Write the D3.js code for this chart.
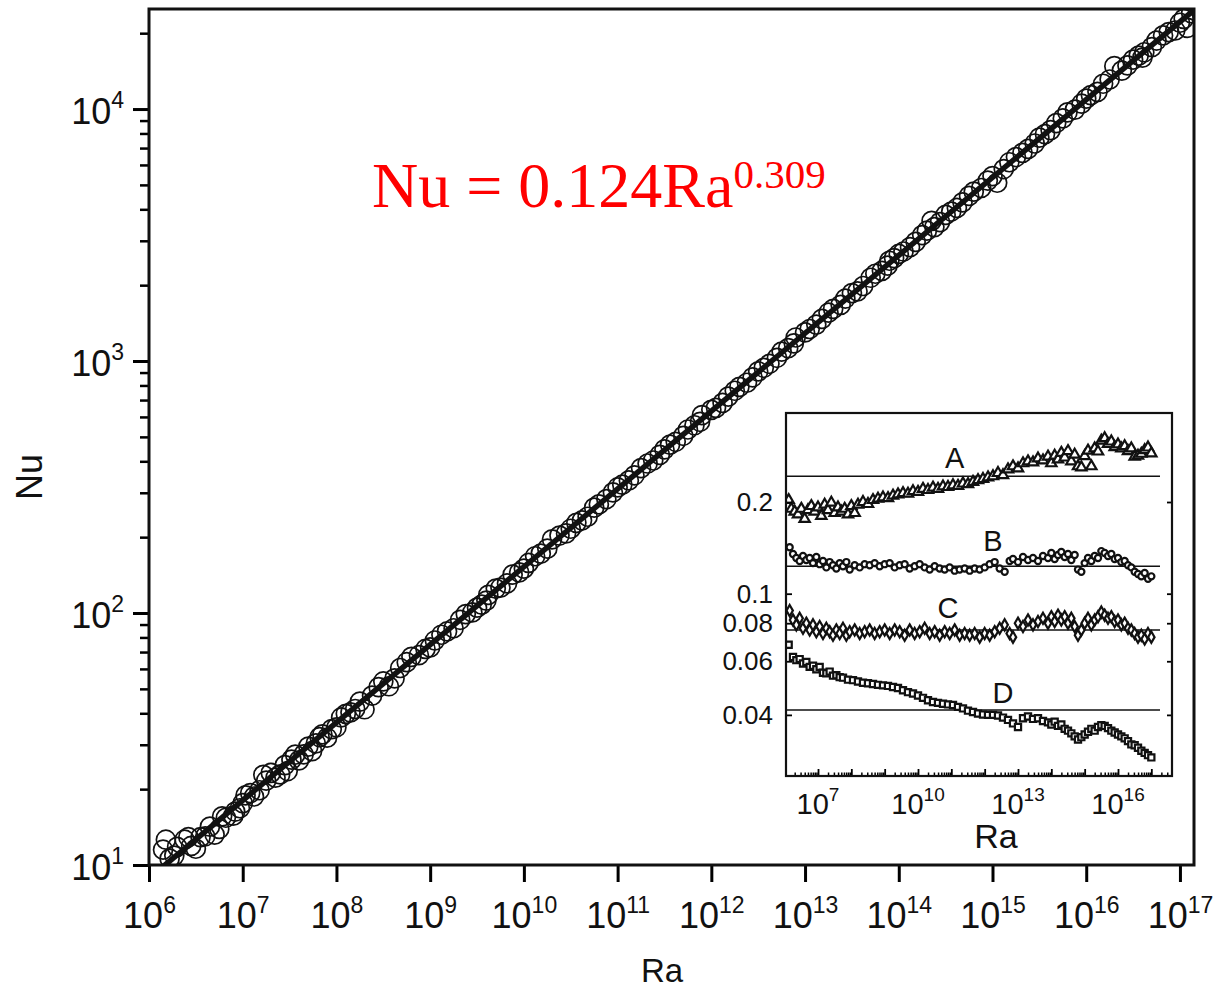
<!DOCTYPE html>
<html>
<head>
<meta charset="utf-8">
<script src="https://cdn.jsdelivr.net/npm/d3@7"></script>
<style>
body { margin: 0; background: #fff; }
svg { display: block; }
text { font-family: "Liberation Sans", Arial, Helvetica, sans-serif; }
</style>
</head>
<body>
<div id="chart"></div>
<script>
// main panel: measured points, Ra exponent (log10 Ra) and Nu
var raExp = [6.15, 6.22, 6.30, 6.38, 6.45, 6.55, 6.60, 6.65, 6.75, 6.82, 6.90, 6.92, 7.00, 7.08, 7.18, 7.22, 7.25,
    7.35, 7.45, 7.52, 7.60, 7.65, 7.70, 7.78, 7.85, 7.90, 7.95, 8.05, 8.15, 8.25, 8.30, 8.38, 8.50, 8.62, 8.75,
    8.80, 8.88, 9.00, 9.12, 9.25, 9.38, 9.50, 9.60, 9.62, 9.75, 9.88, 10.00, 10.12, 10.25, 10.30, 10.38, 10.50,
    10.62, 10.75, 10.80, 10.88, 11.00, 11.12, 11.25, 11.38, 11.50, 11.62, 11.75, 11.88, 11.90, 12.00, 12.12,
    12.25, 12.30, 12.38, 12.50, 12.62, 12.75, 12.88, 12.90, 13.00, 13.12, 13.25, 13.30, 13.38, 13.50, 13.62,
    13.75, 13.88, 13.90, 14.00, 14.12, 14.25, 14.35, 14.38, 14.50, 14.62, 14.75, 14.80, 14.88, 15.00, 15.05,
    15.12, 15.25, 15.38, 15.45, 15.50, 15.62, 15.75, 15.80, 15.88, 16.00, 16.12, 16.25, 16.30, 16.38, 16.50,
    16.60, 16.62, 16.75, 16.88, 16.95, 17.00, 17.08, 17.12,
    6.18, 6.27, 6.42, 6.50, 6.70, 6.78, 6.97, 7.03, 7.12, 7.30, 7.40, 7.48, 7.56, 7.74, 7.82, 8.00, 8.10, 8.20,
    8.45, 8.56, 8.68, 8.95, 9.05, 9.18, 9.32, 9.45, 9.55, 9.70, 9.82, 9.95, 10.05, 10.18, 10.45, 10.56, 10.68,
    10.95, 11.05, 11.18, 11.32, 11.45, 11.56, 11.70, 11.82, 12.05, 12.18, 12.44, 12.56, 12.70, 12.82, 13.05,
    13.18, 13.43, 13.56, 13.70, 13.82, 13.95, 14.05, 14.18, 14.30, 14.44, 14.56, 14.68, 14.95, 15.18, 15.32,
    15.56, 15.68, 15.95, 16.05, 16.18, 16.44, 16.56, 16.70, 16.82, 17.04];
var nu = [11.5, 10.6, 11.8, 12.6, 11.9, 12.9, 13.0, 14.2, 13.9, 15.4, 15.7, 16.3, 17.6, 19.3, 19.8, 22.8, 21.6,
    22.2, 24.9, 26.2, 26.0, 27.5, 29.5, 30.4, 33.0, 32.0, 34.6, 38.5, 40.3, 44.5, 41.5, 47.0, 53.5, 55.0, 63.8,
    67.0, 68.0, 73.0, 82.0, 87.0, 99.0, 105, 112, 118, 126, 142, 150, 168, 180, 196, 203, 216,
    233, 262, 270, 283, 315, 336, 376, 403, 446, 478, 535, 574, 610, 640, 682,
    762, 790, 820, 910, 975, 1090, 1175, 1240, 1300, 1395, 1555, 1610, 1670, 1860, 1985,
    2220, 2390, 2500, 2660, 2830, 3160, 3600, 3400, 3800, 4050, 4520, 4700, 4860, 5420, 5100,
    5780, 6450, 6950, 7300, 7700, 8250, 9180, 9700, 9950, 11000, 11700, 13100, 14800, 14200, 15700,
    16000, 16800, 18700, 20200, 20500, 22000, 21000, 24000,
    12.6, 10.9, 12.9, 11.6, 13.2, 15.6, 16.8, 18.9, 18.7, 23.2, 22.9, 23.6, 27.4, 28.3, 32.2, 35.2, 39.8, 41.6,
    50.8, 51.2, 60.5, 72.0, 77.8, 84.5, 94.0, 100.5, 108, 125, 131, 145, 158, 172, 207, 228, 241,
    301, 323, 352, 392, 424, 466, 505, 556, 652, 722, 862, 940, 1030, 1125, 1340,
    1470, 1770, 1890, 2140, 2280, 2560, 2720, 2970, 3290, 3560, 3920, 4260, 5200, 6150, 6700,
    7950, 8800, 10500, 11350, 12600, 14900, 16300, 17600, 19600, 22800];

// fitted law shown in the plot
var fitC = 0.124, fitExp = 0.309;

var raTicks = [1e6, 1e7, 1e8, 1e9, 1e10, 1e11, 1e12, 1e13, 1e14, 1e15, 1e16, 1e17];
var nuTicks = [1e1, 1e2, 1e3, 1e4];

// inset: prefactors for the four fits
var insetRaA = [6.12, 6.2, 6.3, 6.4, 6.5, 6.6, 6.7, 6.8, 6.9, 7.0, 7.1, 7.2, 7.3, 7.4, 7.5, 7.6, 7.7, 7.8, 7.9,
    8.0, 8.1, 8.2, 8.35, 8.5, 8.65, 8.8, 8.95, 9.1, 9.25, 9.4, 9.55, 9.7, 9.85, 10.0, 10.15, 10.3, 10.45, 10.6,
    10.75, 10.9, 11.05, 11.2, 11.35, 11.5, 11.65, 11.8, 11.95, 12.1, 12.25, 12.4, 12.55, 12.7, 12.85, 13.0,
    13.15, 13.3, 13.45, 13.6, 13.75, 13.9, 14.0, 14.1, 14.2, 14.3, 14.4, 14.5, 14.6, 14.7, 14.8, 14.9, 15.0,
    15.1, 15.2, 15.3, 15.4, 15.5, 15.6, 15.7, 15.8, 15.9, 16.0, 16.1, 16.2, 16.3, 16.4, 16.5, 16.6, 16.7,
    16.8, 16.9, 17.0];
var insetA = [0.203, 0.19, 0.186, 0.182, 0.19, 0.176, 0.188, 0.194, 0.186, 0.192, 0.18, 0.196, 0.188, 0.199,
    0.184, 0.192, 0.186, 0.19, 0.182, 0.194, 0.184, 0.196, 0.2, 0.197, 0.203, 0.205, 0.207, 0.206, 0.21, 0.212,
    0.214, 0.213, 0.217, 0.216, 0.221, 0.219, 0.223, 0.221, 0.225, 0.224, 0.227, 0.226, 0.23, 0.229, 0.233,
    0.236, 0.238, 0.241, 0.243, 0.249, 0.245, 0.256, 0.262, 0.258, 0.268, 0.272, 0.27, 0.278, 0.274, 0.282,
    0.268, 0.284, 0.276, 0.29, 0.28, 0.294, 0.272, 0.286, 0.262, 0.26, 0.283, 0.295, 0.262, 0.3, 0.293, 0.318,
    0.324, 0.31, 0.316, 0.303, 0.309, 0.3, 0.305, 0.294, 0.3, 0.282, 0.284, 0.288, 0.296, 0.302, 0.289];

var insetRa = [6.15, 6.25, 6.35, 6.45, 6.55, 6.65, 6.75, 6.85, 6.95, 7.05, 7.15, 7.25, 7.35, 7.45, 7.55, 7.65,
    7.75, 7.85, 7.95, 8.1, 8.25, 8.4, 8.55, 8.7, 8.85, 9.0, 9.15, 9.3, 9.45, 9.6, 9.75, 9.9, 10.05, 10.2, 10.35,
    10.5, 10.65, 10.8, 10.95, 11.1, 11.25, 11.4, 11.55, 11.7, 11.85, 12.0, 12.15, 12.3, 12.45, 12.6, 12.75,
    12.85, 13.0, 13.15, 13.3, 13.45, 13.6, 13.75, 13.9, 14.0, 14.1, 14.2, 14.3, 14.4, 14.5, 14.6, 14.7, 14.8,
    14.9, 15.0, 15.1, 15.2, 15.3, 15.4, 15.5, 15.6, 15.7, 15.8, 15.9, 16.0, 16.1, 16.2, 16.3, 16.4, 16.5,
    16.6, 16.7, 16.8, 16.9, 17.0];
var insetB = [0.142, 0.135, 0.131, 0.128, 0.133, 0.129, 0.131, 0.126, 0.132, 0.125, 0.128, 0.122, 0.127, 0.124,
    0.121, 0.126, 0.123, 0.127, 0.12, 0.124, 0.122, 0.125, 0.124, 0.126, 0.123, 0.125, 0.126, 0.122, 0.124,
    0.125, 0.121, 0.123, 0.125, 0.122, 0.12, 0.123, 0.121, 0.12, 0.122, 0.119, 0.12, 0.121, 0.119, 0.121,
    0.12, 0.122, 0.125, 0.127, 0.121, 0.118, 0.128, 0.13, 0.127, 0.132, 0.129, 0.131, 0.128, 0.133, 0.131,
    0.136, 0.13, 0.134, 0.137, 0.132, 0.135, 0.129, 0.134, 0.12, 0.118, 0.126, 0.131, 0.128, 0.133, 0.131,
    0.138, 0.136, 0.133, 0.135, 0.13, 0.131, 0.127, 0.128, 0.124, 0.122, 0.118, 0.116, 0.114, 0.117, 0.112,
    0.114];
var insetC = [0.088, 0.082, 0.079, 0.083, 0.077, 0.08, 0.076, 0.079, 0.075, 0.078, 0.074, 0.077, 0.075, 0.073,
    0.076, 0.074, 0.077, 0.073, 0.075, 0.076, 0.074, 0.075, 0.076, 0.074, 0.075, 0.076, 0.074, 0.076, 0.075,
    0.073, 0.076, 0.074, 0.075, 0.077, 0.074, 0.075, 0.073, 0.075, 0.074, 0.076, 0.073, 0.074, 0.073, 0.074,
    0.072, 0.074, 0.073, 0.075, 0.077, 0.079, 0.074, 0.072, 0.08, 0.078, 0.082, 0.079, 0.081, 0.083, 0.08,
    0.084, 0.081, 0.085, 0.082, 0.084, 0.08, 0.083, 0.078, 0.073, 0.076, 0.08, 0.083, 0.079, 0.082, 0.084,
    0.087, 0.085, 0.083, 0.084, 0.081, 0.082, 0.079, 0.08, 0.077, 0.076, 0.074, 0.072, 0.073, 0.071, 0.074,
    0.072];

var insetRaD = [6.12, 6.25, 6.35, 6.45, 6.55, 6.65, 6.75, 6.85, 6.95, 7.05, 7.15, 7.25, 7.35, 7.45, 7.55, 7.65,
    7.75, 7.9, 8.05, 8.2, 8.35, 8.5, 8.65, 8.8, 8.95, 9.1, 9.25, 9.4, 9.55, 9.7, 9.85, 10.0, 10.15, 10.3, 10.45,
    10.6, 10.75, 10.9, 11.05, 11.2, 11.35, 11.5, 11.65, 11.8, 11.95, 12.1, 12.25, 12.4, 12.55, 12.7, 12.85,
    13.0, 13.15, 13.3, 13.45, 13.6, 13.75, 13.9, 14.0, 14.1, 14.2, 14.3, 14.4, 14.5, 14.6, 14.7, 14.8, 14.9,
    15.0, 15.1, 15.2, 15.3, 15.4, 15.5, 15.6, 15.7, 15.8, 15.9, 16.0, 16.1, 16.2, 16.3, 16.4, 16.5, 16.6,
    16.7, 16.8, 16.9, 17.0];
var insetD = [0.068, 0.062, 0.0605, 0.061, 0.059, 0.0597, 0.0575, 0.058, 0.0565, 0.0575, 0.055, 0.0548, 0.0555,
    0.0538, 0.054, 0.0532, 0.053, 0.0522, 0.052, 0.0515, 0.051, 0.0508, 0.0505, 0.0502, 0.05, 0.0498, 0.0494,
    0.049, 0.0482, 0.0475, 0.047, 0.0463, 0.0455, 0.0447, 0.0441, 0.0438, 0.0435, 0.0433, 0.0431, 0.0425,
    0.042, 0.0413, 0.0409, 0.0404, 0.0401, 0.04, 0.04, 0.0398, 0.0392, 0.0385, 0.0375, 0.0365, 0.039, 0.0395,
    0.0388, 0.039, 0.0382, 0.0378, 0.0372, 0.038, 0.0368, 0.0372, 0.036, 0.0355, 0.0348, 0.034, 0.0332,
    0.0338, 0.0345, 0.0352, 0.036, 0.0355, 0.0365, 0.037, 0.0368, 0.0362, 0.0355, 0.035, 0.0345, 0.034,
    0.0335, 0.0328, 0.032, 0.0318, 0.0312, 0.0305, 0.03, 0.0295, 0.029];

var insetNames = ["A", "B", "C", "D"];
var insetLevels = [0.243, 0.123, 0.076, 0.0415];
var insetLabelRa = [11.1, 12.25, 10.9, 12.55];
var insetLabelVal = [0.2585, 0.138, 0.0832, 0.0438];
var insetYTicks = [0.2, 0.1, 0.08, 0.06, 0.04];
var insetYLabels = ["0.2", "0.1", "0.08", "0.06", "0.04"];
var insetRaLabels = [1e7, 1e10, 1e13, 1e16];

var W = 1218, H = 992;
var mLeft = 149, mRight = 1194, mTop = 9, mBottom = 865;

var svg = d3.select("#chart").append("svg")
    .attr("width", W)
    .attr("height", H);

var x = d3.scaleLog().domain([1e6, Math.pow(10, 17.15)]).range([mLeft, mRight]);
var y = d3.scaleLog().domain([10, Math.pow(10, 4.397)]).range([mBottom, mTop]);

svg.append("clipPath").attr("id", "plotclip")
    .append("rect").attr("x", mLeft).attr("y", mTop)
    .attr("width", mRight - mLeft).attr("height", mBottom - mTop);

// y axis minor + major ticks, pointing out
var nuMinor = [];
nuTicks.forEach(function(d) {
    [2, 3, 4, 5, 6, 7, 8, 9].forEach(function(k) {
        if (d * k < y.domain()[1]) nuMinor.push(d * k);
    });
});

var gyMinor = svg.append("g")
    .attr("transform", "translate(" + mLeft + ",0)")
    .call(d3.axisLeft(y).tickValues(nuMinor).tickSize(9).tickSizeOuter(0).tickFormat(""));
gyMinor.select(".domain").remove();
gyMinor.selectAll(".tick line").attr("stroke-width", 2.5);

var gy = svg.append("g")
    .attr("transform", "translate(" + mLeft + ",0)")
    .call(d3.axisLeft(y).tickValues(nuTicks).tickSize(16).tickSizeOuter(0).tickFormat(""))
    .attr("font-size", 36)
    .attr("font-family", null);
gy.select(".domain").remove();
gy.selectAll(".tick line").attr("stroke-width", 3);
gy.selectAll(".tick text")
    .attr("x", -25)
    .attr("dy", null)
    .attr("y", 14)
    .attr("fill", "#111")
    .each(function(d) {
        var t = d3.select(this);
        t.append("tspan").text("10");
        t.append("tspan").attr("dy", -16).attr("font-size", 23).text(Math.round(Math.log10(d)));
    });

var gx = svg.append("g")
    .attr("transform", "translate(0," + mBottom + ")")
    .call(d3.axisBottom(x).tickValues(raTicks).tickSize(17).tickSizeOuter(0).tickFormat(""))
    .attr("font-size", 36)
    .attr("font-family", null);
gx.select(".domain").remove();
gx.selectAll(".tick line").attr("stroke-width", 3);
gx.selectAll(".tick text")
    .attr("y", 63)
    .attr("dy", null)
    .attr("fill", "#111")
    .each(function(d) {
        var t = d3.select(this);
        t.append("tspan").text("10");
        t.append("tspan").attr("dy", -15).attr("font-size", 23).text(Math.round(Math.log10(d)));
    });

// data circles
var pts = raExp.map(function(e, i) { return { ra: Math.pow(10, e), nu: nu[i] }; });

svg.append("g").attr("clip-path", "url(#plotclip)")
    .selectAll("circle")
    .data(pts)
    .enter().append("circle")
    .attr("cx", function(d) { return x(d.ra); })
    .attr("cy", function(d) { return y(d.nu); })
    .attr("r", 9.5)
    .attr("fill", "none")
    .attr("stroke", "#111")
    .attr("stroke-width", 1.7);

// fit line
var fitLine = d3.line()
    .x(function(d) { return x(d); })
    .y(function(d) { return y(fitC * Math.pow(d, fitExp)); });

svg.append("path")
    .attr("clip-path", "url(#plotclip)")
    .datum([Math.pow(10, 6.0), Math.pow(10, 17.3)])
    .attr("d", fitLine)
    .attr("fill", "none")
    .attr("stroke", "#111")
    .attr("stroke-width", 5.5);

// frame
svg.append("rect")
    .attr("x", mLeft).attr("y", mTop)
    .attr("width", mRight - mLeft).attr("height", mBottom - mTop)
    .attr("fill", "none")
    .attr("stroke", "#111")
    .attr("stroke-width", 3);

// formula
var formula = svg.append("text")
    .attr("x", 372)
    .attr("y", 207)
    .attr("fill", "#ff0000")
    .style("font-family", "'Liberation Serif', 'Times New Roman', serif")
    .attr("font-size", 64);
formula.append("tspan").text("Nu = " + fitC + "Ra");
formula.append("tspan").attr("dy", -19).attr("font-size", 41).text(fitExp);

// axis titles
svg.append("text")
    .attr("x", 662).attr("y", 982)
    .attr("text-anchor", "middle")
    .attr("font-size", 33)
    .attr("fill", "#111")
    .text("Ra");

svg.append("text")
    .attr("transform", "translate(42,477) rotate(-90)")
    .attr("text-anchor", "middle")
    .attr("font-size", 36)
    .attr("fill", "#111")
    .text("Nu");

// ---------- inset ----------
var iL = 786, iR = 1172, iT = 413, iB = 776;
var ix = d3.scaleLog().domain([Math.pow(10, 6.04), Math.pow(10, 17.62)]).range([iL, iR]);
var iy = d3.scaleLog().domain([0.0252, 0.392]).range([iB, iT]);

svg.append("rect")
    .attr("x", iL).attr("y", iT)
    .attr("width", iR - iL).attr("height", iB - iT)
    .attr("fill", "#fff");

svg.append("clipPath").attr("id", "insetclip")
    .append("rect").attr("x", iL).attr("y", iT)
    .attr("width", iR - iL).attr("height", iB - iT);

// reference levels
svg.append("g").selectAll("line")
    .data(insetLevels)
    .enter().append("line")
    .attr("x1", iL)
    .attr("x2", ix(Math.pow(10, 17.26)))
    .attr("y1", function(d) { return iy(d); })
    .attr("y2", function(d) { return iy(d); })
    .attr("stroke", "#111")
    .attr("stroke-width", 1.6);

var series = [
    { ra: insetRaA, v: insetA, sym: d3.symbolTriangle, size: 46 },
    { ra: insetRa, v: insetB, sym: d3.symbolCircle, size: 30 },
    { ra: insetRa, v: insetC, sym: d3.symbolDiamond, size: 36 },
    { ra: insetRaD, v: insetD, sym: d3.symbolSquare, size: 38 }
];

var ig = svg.append("g").attr("clip-path", "url(#insetclip)");
series.forEach(function(s) {
    var sym = d3.symbol().type(s.sym).size(s.size);
    ig.append("g").selectAll("path")
        .data(s.v)
        .enter().append("path")
        .attr("d", sym)
        .attr("transform", function(d, i) {
            return "translate(" + ix(Math.pow(10, s.ra[i])) + "," + iy(d) + ")";
        })
        .attr("fill", "#fff")
        .attr("stroke", "#111")
        .attr("stroke-width", 2.2);
});

// series letters
svg.append("g").selectAll("text")
    .data(insetNames)
    .enter().append("text")
    .attr("x", function(d, i) { return ix(Math.pow(10, insetLabelRa[i])); })
    .attr("y", function(d, i) { return iy(insetLabelVal[i]); })
    .attr("text-anchor", "middle")
    .attr("font-size", 29)
    .attr("fill", "#111")
    .text(function(d) { return d; });

// inset x ticks, inward
var insetDecades = d3.range(7, 18).map(function(e) { return Math.pow(10, e); });
var insetMinor = [];
[1e6].concat(insetDecades).forEach(function(d) {
    [2, 3, 4, 5, 6, 7, 8, 9].forEach(function(k) {
        if (d * k > ix.domain()[0] && d * k < ix.domain()[1]) insetMinor.push(d * k);
    });
});

var ixMinor = svg.append("g")
    .attr("transform", "translate(0," + iB + ")")
    .call(d3.axisBottom(ix).tickValues(insetMinor).tickSize(-3.5).tickSizeOuter(0).tickFormat(""));
ixMinor.select(".domain").remove();
ixMinor.selectAll(".tick line").attr("stroke-width", 1.5);

var ixMajor = svg.append("g")
    .attr("transform", "translate(0," + iB + ")")
    .call(d3.axisBottom(ix).tickValues(insetDecades).tickSize(-7).tickSizeOuter(0).tickFormat(""));
ixMajor.select(".domain").remove();
ixMajor.selectAll(".tick line").attr("stroke-width", 1.8);

svg.append("g").selectAll("text")
    .data(insetRaLabels)
    .enter().append("text")
    .attr("x", function(d) { return ix(d); })
    .attr("y", iB + 38)
    .attr("text-anchor", "middle")
    .attr("font-size", 29)
    .attr("fill", "#111")
    .each(function(d) {
        var t = d3.select(this);
        t.append("tspan").text("10");
        t.append("tspan").attr("dy", -13).attr("font-size", 19).text(Math.round(Math.log10(d)));
    });

svg.append("text")
    .attr("x", 996).attr("y", 848)
    .attr("text-anchor", "middle")
    .attr("font-size", 34)
    .attr("fill", "#111")
    .text("Ra");

// inset y ticks, inward both sides
var iyAxis = svg.append("g")
    .attr("transform", "translate(" + iL + ",0)")
    .call(d3.axisLeft(iy).tickValues(insetYTicks).tickSize(-6).tickSizeOuter(0)
        .tickFormat(function(d, i) { return insetYLabels[i]; }))
    .attr("font-size", 26)
    .attr("font-family", null);
iyAxis.select(".domain").remove();
iyAxis.selectAll(".tick line").attr("stroke-width", 1.8);
iyAxis.selectAll(".tick text").attr("x", -13).attr("fill", "#111");

var iyRight = svg.append("g")
    .attr("transform", "translate(" + iR + ",0)")
    .call(d3.axisRight(iy).tickValues(insetYTicks).tickSize(-5).tickSizeOuter(0).tickFormat(""));
iyRight.select(".domain").remove();
iyRight.selectAll(".tick line").attr("stroke-width", 1.8);

svg.append("rect")
    .attr("x", iL).attr("y", iT)
    .attr("width", iR - iL).attr("height", iB - iT)
    .attr("fill", "none")
    .attr("stroke", "#111")
    .attr("stroke-width", 2.2);
</script>
</body>
</html>
